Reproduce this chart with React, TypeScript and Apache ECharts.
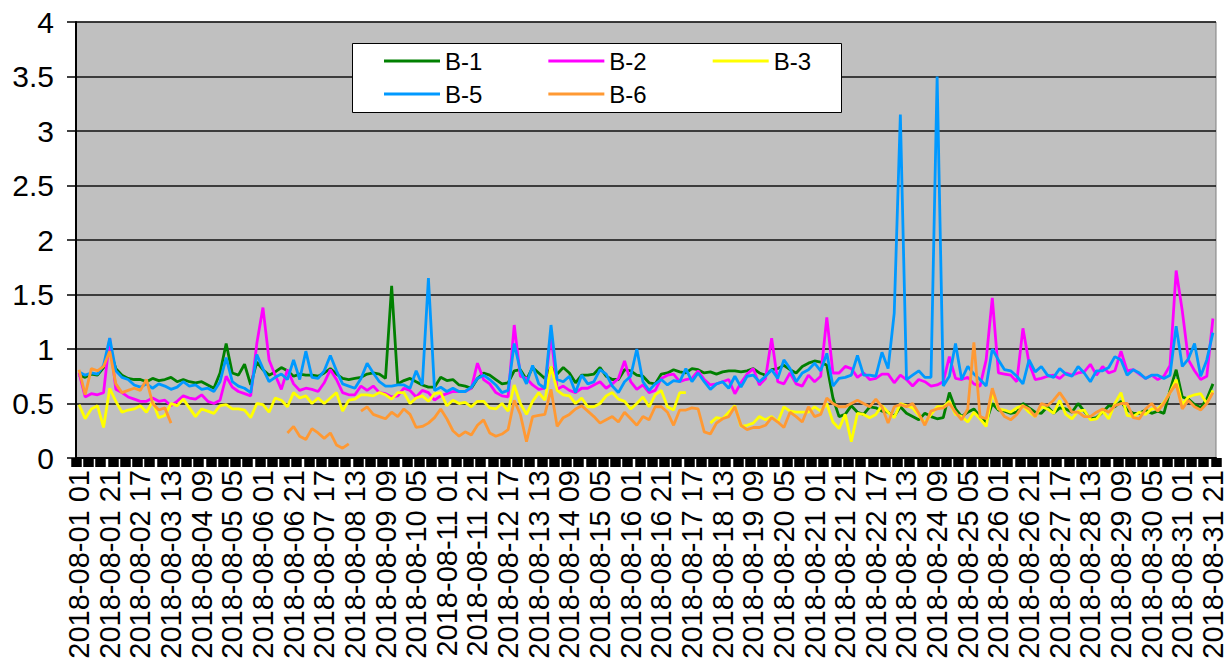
import React, { useEffect, useRef } from "react";
import * as echarts from "echarts";

const FONT = "'Liberation Sans', Arial, sans-serif";

const DAYS = ["01","02","03","04","05","06","07","08","09","10","11","12","13","14","15","16","17","18","19","20","21","22","23","24","25","26","27","28","29","30","31"];
const HOURS = ["01","05","09","13","17","21"];
const CATEGORIES = DAYS.flatMap((d) => HOURS.map((h) => `2018-08-${d} ${h}`));

const Y_MIN = 0;
const Y_MAX = 4;
const Y_STEP = 0.5;

const SERIES_NAMES = ["B-1", "B-2", "B-3", "B-5", "B-6"];
const SERIES_COLORS = ["#008000", "#FF00FF", "#FFFF00", "#0099FF", "#FF9933"];

// values every 4 hours (01,05,09,13,17,21), one row per day
const B1 = [
  0.76,0.74,0.77,0.76,0.83,1.0,
  0.82,0.76,0.73,0.72,0.72,0.7,
  0.73,0.71,0.72,0.74,0.7,0.72,
  0.7,0.69,0.7,0.67,0.64,0.78,
  1.05,0.78,0.76,0.86,0.67,0.88,
  0.81,0.76,0.79,0.83,0.8,0.75,
  0.77,0.76,0.76,0.75,0.78,0.82,
  0.77,0.73,0.72,0.73,0.74,0.77,
  0.78,0.77,0.73,1.58,0.68,0.71,
  0.73,0.7,0.67,0.65,0.65,0.74,
  0.71,0.72,0.67,0.66,0.64,0.73,
  0.78,0.76,0.72,0.68,0.69,0.8,
  0.81,0.72,0.83,0.78,0.73,0.83,
  0.77,0.83,0.78,0.69,0.76,0.76,
  0.77,0.83,0.75,0.72,0.72,0.81,
  0.8,0.76,0.75,0.69,0.68,0.77,
  0.78,0.81,0.79,0.78,0.82,0.81,
  0.78,0.79,0.77,0.79,0.8,0.8,
  0.79,0.8,0.82,0.78,0.76,0.81,
  0.82,0.85,0.81,0.78,0.84,0.87,
  0.89,0.88,0.85,0.55,0.38,0.4,
  0.48,0.42,0.4,0.47,0.46,0.43,
  0.42,0.38,0.47,0.41,0.38,0.35,
  0.41,0.38,0.36,0.37,0.6,0.45,
  0.38,0.42,0.45,0.38,0.33,0.5,
  0.44,0.43,0.41,0.42,0.5,0.46,
  0.42,0.41,0.47,0.41,0.46,0.45,
  0.42,0.5,0.43,0.36,0.37,0.42,
  0.48,0.47,0.52,0.44,0.41,0.41,
  0.44,0.41,0.43,0.41,0.62,0.81,
  0.56,0.54,0.49,0.46,0.54,0.68,
];

const B2 = [
  0.78,0.56,0.59,0.58,0.6,1.1,
  0.63,0.6,0.56,0.54,0.52,0.52,
  0.55,0.52,0.53,0.48,0.52,0.57,
  0.55,0.54,0.58,0.52,0.5,0.53,
  0.75,0.65,0.61,0.59,0.57,1.05,
  1.38,0.9,0.76,0.63,0.81,0.68,
  0.62,0.64,0.63,0.61,0.69,0.81,
  0.72,0.6,0.58,0.58,0.66,0.62,
  0.66,0.6,0.59,0.56,0.57,0.64,
  0.62,0.56,0.62,0.6,0.53,0.57,
  0.59,0.61,0.61,0.61,0.64,0.87,
  0.72,0.68,0.6,0.57,0.56,1.22,
  0.75,0.73,0.67,0.63,0.64,1.13,
  0.63,0.66,0.62,0.6,0.64,0.64,
  0.67,0.7,0.64,0.68,0.73,0.89,
  0.7,0.63,0.67,0.6,0.62,0.73,
  0.76,0.77,0.7,0.72,0.73,0.8,
  0.72,0.67,0.68,0.7,0.72,0.59,
  0.69,0.77,0.82,0.67,0.73,1.1,
  0.7,0.68,0.78,0.68,0.66,0.76,
  0.7,0.75,1.29,0.78,0.78,0.84,
  0.82,0.74,0.78,0.72,0.73,0.77,
  0.77,0.69,0.76,0.72,0.66,0.72,
  0.7,0.66,0.67,0.7,0.93,0.73,
  0.72,0.74,0.68,0.66,0.9,1.47,
  0.78,0.77,0.76,0.7,1.19,0.87,
  0.72,0.73,0.75,0.76,0.73,0.78,
  0.76,0.78,0.79,0.86,0.76,0.84,
  0.78,0.8,0.98,0.8,0.81,0.77,
  0.73,0.76,0.72,0.75,0.85,1.72,
  1.35,0.9,0.8,0.72,0.75,1.28,
];

const B3 = [
  0.49,0.36,0.45,0.48,0.28,0.64,
  0.52,0.42,0.44,0.45,0.48,0.42,
  0.52,0.37,0.39,0.5,0.48,0.54,
  0.46,0.38,0.45,0.43,0.41,0.48,
  0.49,0.45,0.45,0.44,0.37,0.5,
  0.49,0.42,0.55,0.53,0.47,0.6,
  0.55,0.57,0.5,0.55,0.5,0.55,
  0.6,0.43,0.53,0.54,0.58,0.58,
  0.57,0.6,0.58,0.54,0.6,0.6,
  0.5,0.55,0.57,0.52,0.59,0.6,
  0.48,0.53,0.5,0.51,0.47,0.52,
  0.52,0.46,0.45,0.5,0.43,0.67,
  0.5,0.4,0.52,0.6,0.53,0.84,
  0.62,0.58,0.57,0.5,0.55,0.47,
  0.47,0.5,0.57,0.6,0.54,0.52,
  0.45,0.5,0.56,0.47,0.58,0.62,
  0.47,0.44,0.6,0.6,null,null,
  null,0.32,0.37,0.36,0.42,0.48,
  0.29,0.3,0.32,0.38,0.35,0.38,
  0.33,0.47,0.43,0.42,0.42,0.42,
  0.47,0.43,0.5,0.33,0.27,0.4,
  0.15,0.41,0.4,0.37,0.4,0.48,
  0.42,0.37,0.5,0.48,0.46,0.39,
  0.32,0.4,0.47,0.47,0.52,0.4,
  0.38,0.33,0.42,0.36,0.29,0.6,
  0.45,0.44,0.42,0.46,0.48,0.42,
  0.38,0.47,0.45,0.41,0.53,0.4,
  0.36,0.43,0.44,0.35,0.36,0.43,
  0.36,0.5,0.6,0.39,0.38,0.42,
  0.4,0.45,0.45,0.51,0.6,0.72,
  0.49,0.56,0.58,0.59,0.5,0.62,
];

const B5 = [
  0.79,0.76,0.78,0.77,0.85,1.1,
  0.8,0.74,0.72,0.67,0.65,0.68,
  0.64,0.68,0.66,0.63,0.65,0.7,
  0.66,0.67,0.63,0.64,0.61,0.7,
  0.92,0.7,0.66,0.64,0.6,0.95,
  0.82,0.7,0.74,0.77,0.72,0.9,
  0.72,0.98,0.74,0.73,0.8,0.94,
  0.8,0.68,0.66,0.64,0.73,0.87,
  0.78,0.7,0.66,0.66,0.67,0.67,
  0.64,0.8,0.67,1.65,0.62,0.65,
  0.61,0.64,0.61,0.61,0.65,0.73,
  0.76,0.72,0.67,0.6,0.62,1.05,
  0.8,0.68,0.85,0.68,0.64,1.22,
  0.72,0.7,0.75,0.6,0.76,0.68,
  0.7,0.81,0.77,0.66,0.6,0.7,
  0.75,1.0,0.7,0.62,0.68,0.72,
  0.67,0.71,0.7,0.82,0.7,0.78,
  0.7,0.63,0.68,0.7,0.64,0.75,
  0.65,0.75,0.76,0.7,0.75,0.81,
  0.73,0.9,0.82,0.7,0.78,0.81,
  0.87,0.8,0.96,0.66,0.73,0.74,
  0.76,0.94,0.76,0.76,0.75,0.97,
  0.82,1.33,3.15,0.72,0.76,0.8,
  0.74,0.74,3.5,0.66,0.75,1.05,
  0.72,0.84,0.77,0.72,0.66,1.0,
  0.9,0.81,0.8,0.75,0.68,0.9,
  0.79,0.84,0.76,0.74,0.82,0.77,
  0.75,0.84,0.78,0.7,0.8,0.8,
  0.83,0.93,0.9,0.76,0.81,0.78,
  0.73,0.76,0.76,0.73,0.76,1.21,
  0.84,0.91,1.05,0.75,0.9,1.15,
];

const B6 = [
  0.81,0.58,0.82,0.8,0.84,0.98,
  0.68,0.6,0.62,0.64,0.62,0.72,
  0.5,0.44,0.46,0.32,null,null,
  null,null,null,null,null,null,
  null,null,null,null,null,null,
  null,null,null,null,0.23,0.29,
  0.2,0.17,0.27,0.23,0.18,0.23,
  0.12,0.09,0.13,null,0.43,0.47,
  0.4,0.38,0.36,0.42,0.38,0.45,
  0.4,0.28,0.29,0.32,0.37,0.45,
  0.36,0.25,0.2,0.24,0.21,0.3,
  0.35,0.23,0.2,0.22,0.26,0.53,
  0.4,0.15,0.38,0.39,0.4,0.63,
  0.29,0.37,0.4,0.45,0.48,0.43,
  0.38,0.32,0.35,0.38,0.33,0.42,
  0.36,0.3,0.38,0.35,0.47,0.47,
  0.42,0.3,0.44,0.44,0.46,0.45,
  0.24,0.22,0.32,0.36,0.38,0.47,
  0.3,0.26,0.28,0.28,0.3,0.37,
  0.33,0.28,0.42,0.38,0.33,0.47,
  0.38,0.4,0.55,0.5,0.47,0.47,
  0.5,0.53,0.5,0.47,0.54,0.47,
  0.32,0.47,0.49,0.47,0.5,0.41,
  0.3,0.43,0.45,0.46,0.5,0.42,
  0.35,0.45,1.06,0.38,0.36,0.64,
  0.46,0.38,0.35,0.4,0.48,0.45,
  0.38,0.5,0.48,0.53,0.6,0.52,
  0.42,0.42,0.38,0.38,0.42,0.45,
  0.42,0.48,0.5,0.5,0.37,0.36,
  0.45,0.5,0.43,0.5,0.6,0.68,
  0.45,0.53,0.47,0.44,0.5,0.6,
];

const SERIES_VALUES = [B1, B2, B3, B5, B6];

export default function App() {
  const ref = useRef<HTMLDivElement>(null);

  useEffect(() => {
    if (!ref.current) return;
    const chart = echarts.init(ref.current, undefined, { renderer: "svg" });

    const legendCommon = {
      icon: "rect",
      itemWidth: 56,
      itemHeight: 3,
      itemGap: 66,
      padding: 0,
      left: 384,
      z: 6,
      selectedMode: false,
      textStyle: { fontSize: 24, color: "#000", fontFamily: FONT },
    };

    chart.setOption({
      animation: false,
      backgroundColor: "#ffffff",
      textStyle: { fontFamily: FONT },
      grid: {
        left: 76,
        right: 14,
        top: 22,
        bottom: 210,
        show: true,
        backgroundColor: "#C0C0C0",
        borderColor: "#808080",
        borderWidth: 1,
      },
      graphic: [
        {
          type: "rect",
          z: 5,
          shape: { x: 352.5, y: 43.5, width: 489, height: 69 },
          style: { fill: "#ffffff", stroke: "#000000", lineWidth: 1 },
        },
      ],
      legend: [
        { ...legendCommon, top: 49, data: SERIES_NAMES.slice(0, 3) },
        { ...legendCommon, top: 82, data: SERIES_NAMES.slice(3) },
      ],
      xAxis: {
        type: "category",
        data: CATEGORIES,
        boundaryGap: true,
        axisLine: { show: true, lineStyle: { color: "#000", width: 2 } },
        axisTick: { show: true, interval: 1, length: 9, lineStyle: { color: "#000", width: 10.5 } },
        axisLabel: {
          interval: 4,
          rotate: 90,
          fontSize: 29,
          lineHeight: 24,
          color: "#000",
          margin: 12,
          fontFamily: FONT,
        },
        splitLine: { show: false },
      },
      yAxis: {
        type: "value",
        min: Y_MIN,
        max: Y_MAX,
        interval: Y_STEP,
        axisLine: { show: true, lineStyle: { color: "#000", width: 2 } },
        axisTick: { show: true, length: 9, lineStyle: { color: "#000", width: 1.5 } },
        axisLabel: { fontSize: 30, color: "#000", margin: 22, fontFamily: FONT },
        splitLine: { show: true, lineStyle: { color: "#111", width: 1.6 } },
      },
      series: SERIES_NAMES.map((name, k) => ({
        name,
        type: "line",
        data: SERIES_VALUES[k],
        symbol: "none",
        showSymbol: false,
        connectNulls: false,
        color: SERIES_COLORS[k],
        lineStyle: { color: SERIES_COLORS[k], width: 2.8 },
      })),
    });

    return () => chart.dispose();
  }, []);

  return (
    <div
      ref={ref}
      style={{ position: "fixed", left: 0, top: 0, width: 1230, height: 668 }}
    />
  );
}
